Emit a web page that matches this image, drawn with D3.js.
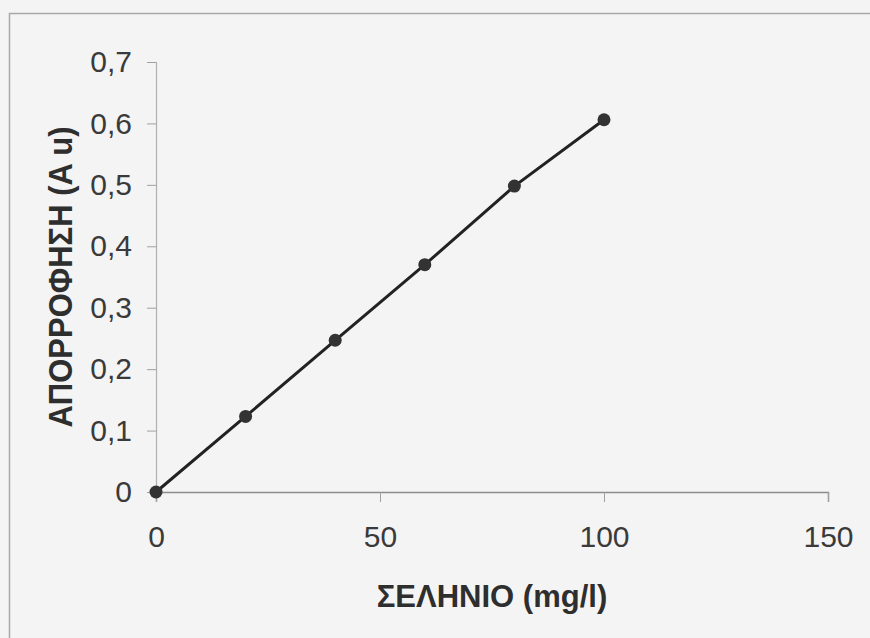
<!DOCTYPE html>
<html>
<head>
<meta charset="utf-8">
<script src="https://cdn.jsdelivr.net/npm/d3@7"></script>
<style>
  body { margin: 0; background: #f4f4f4; }
  svg { display: block; }
</style>
</head>
<body>
<div id="chart"></div>
<script>
// selenium calibration data
const concentration = [0, 20, 40, 60, 80, 100]
const absorbance = [0, 0.123, 0.247, 0.37, 0.498, 0.606]
const xTicks = [0, 50, 100, 150]
const yTicks = [0, 0.1, 0.2, 0.3, 0.4, 0.5, 0.6, 0.7]
const xTitle = "ΣΕΛΗΝΙΟ (mg/l)"
const yTitle = "ΑΠΟΡΡΟΦΗΣΗ (A u)"

const width = 870, height = 638
const plotLeft = 156, plotRight = 828, plotTop = 62, plotBottom = 492

const svg = d3.select("#chart")
    .append("svg")
    .attr("width", width)
    .attr("height", height)

svg.append("rect")
    .attr("width", width).attr("height", height)
    .attr("fill", "#f4f4f4")

// outer frame (top and left edges visible)
svg.append("path")
    .attr("d", `M9.5,${height} L9.5,13.5 L${width},13.5`)
    .attr("fill", "none")
    .attr("stroke", "#a8a8a8")
    .attr("stroke-width", 1.5)

const xScale = d3.scaleLinear()
    .domain([0, 150])
    .range([plotLeft, plotRight])

const yScale = d3.scaleLinear()
    .domain([0, 0.7])
    .range([plotBottom, plotTop])

const xAxis = d3.axisBottom(xScale)
    .tickValues(xTicks)
    .tickSize(10)
    .tickPadding(24)
    .tickFormat(d3.format("d"))

const yAxis = d3.axisLeft(yScale)
    .tickValues(yTicks)
    .tickSize(9)
    .tickPadding(15)
    .tickFormat(d => d === 0 ? "0" : d3.format(".1f")(d).replace(".", ","))

const gx = svg.append("g")
    .attr("transform", `translate(0,${plotBottom})`)
    .call(xAxis)
gx.select(".domain").attr("stroke", "#8c8c8c").attr("stroke-width", 1.5)
gx.selectAll(".tick line").attr("stroke", "#a0a0a0")
gx.selectAll("text")
    .attr("fill", "#3a3a3a")
    .style("font", "30px 'Liberation Sans', Arial, sans-serif")

const gy = svg.append("g")
    .attr("transform", `translate(${plotLeft},0)`)
    .call(yAxis)
gy.select(".domain").attr("stroke", "#b0b0b0").attr("stroke-width", 1.2)
gy.selectAll(".tick line").attr("stroke", "#a0a0a0")
gy.selectAll("text")
    .attr("fill", "#3a3a3a")
    .style("font", "30px 'Liberation Sans', Arial, sans-serif")

// data line + markers
const pts = concentration.map((c, i) => [c, absorbance[i]])

svg.append("path")
    .datum(pts)
    .attr("d", d3.line().x(d => xScale(d[0])).y(d => yScale(d[1])))
    .attr("fill", "none")
    .attr("stroke", "#222")
    .attr("stroke-width", 3)

svg.selectAll(".pt")
    .data(pts)
    .enter().append("circle")
    .attr("class", "pt")
    .attr("cx", d => xScale(d[0]))
    .attr("cy", d => yScale(d[1]))
    .attr("r", 6.5)
    .attr("fill", "#333")

// axis titles
svg.append("text")
    .attr("x", (plotLeft + plotRight) / 2)
    .attr("y", 607)
    .attr("text-anchor", "middle")
    .attr("fill", "#2e2e2e")
    .style("font", "bold 31px 'Liberation Sans', Arial, sans-serif")
    .text(xTitle)

svg.append("text")
    .attr("transform", `translate(72,${(plotTop + plotBottom) / 2}) rotate(-90) scale(1,1.05)`)
    .attr("text-anchor", "middle")
    .attr("fill", "#2e2e2e")
    .style("font", "bold 31px 'Liberation Sans', Arial, sans-serif")
    .text(yTitle)
</script>
</body>
</html>
